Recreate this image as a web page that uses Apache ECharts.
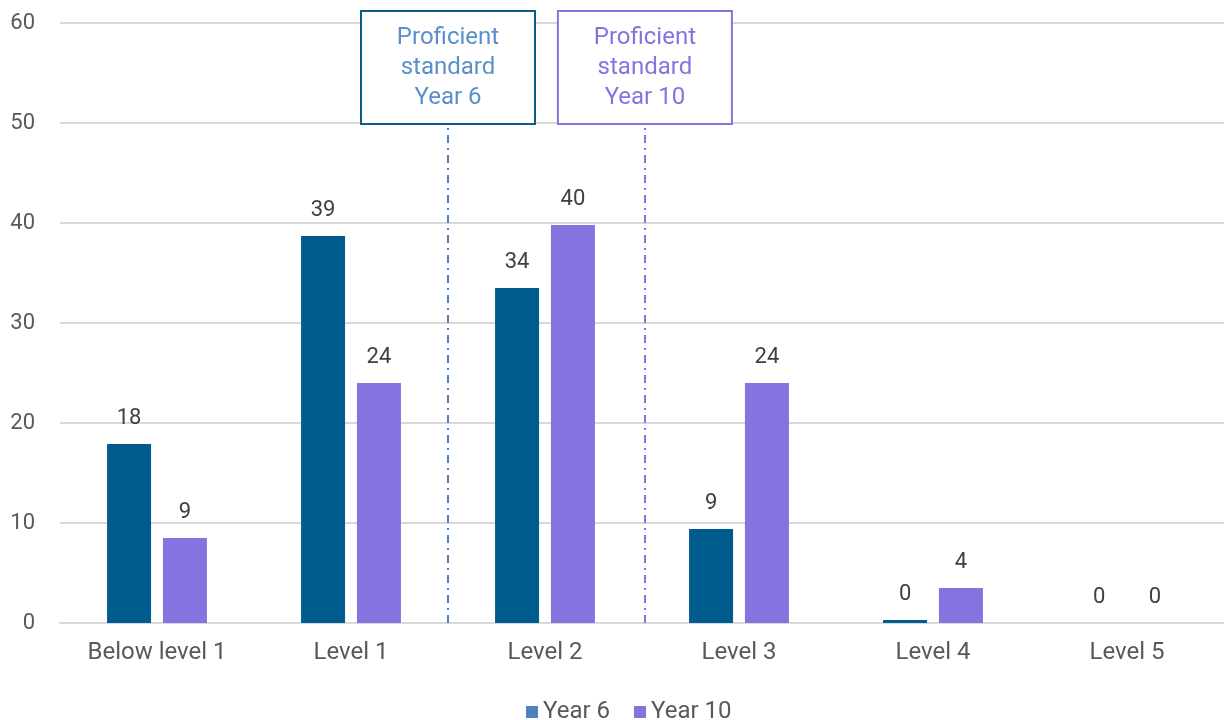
<!DOCTYPE html>
<html>
<head>
<meta charset="utf-8">
<script src="https://cdn.jsdelivr.net/npm/echarts@6/dist/echarts.min.js"></script>
<style>html,body{margin:0;padding:0;background:#fff;}#c{width:1224px;height:720px;}</style>
</head>
<body>
<div id="c"></div>
<script>
var categories = ['Below level 1', 'Level 1', 'Level 2', 'Level 3', 'Level 4', 'Level 5'];
var seriesNames = ['Year 6', 'Year 10'];
var year6 = [17.9, 38.7, 33.5, 9.4, 0.3, 0];
var year10 = [8.5, 24.0, 39.8, 24.0, 3.5, 0];
var yTicks = [0, 10, 20, 30, 40, 50, 60];
var standardNames = ['Proficient\nstandard\nYear 6', 'Proficient\nstandard\nYear 10'];
var standardPositions = [2, 3.015];   // positions along the category band (value-axis units)
var standardLineTop = 50;

var FONT = 'Roboto';
var c6 = '#005B8F', c10 = '#8673E0';

var chart = echarts.init(document.getElementById('c'), null, {renderer: 'canvas'});

function fmt(p) { return String(Math.round(p.value)); }

function standardLine(i, lineColor, borderColor, textColor) {
  return [
    {coord: [standardPositions[i], 0]},
    {
      coord: [standardPositions[i], standardLineTop],
      label: {
        show: true, position: 'end', distance: 0,
        formatter: standardNames[i],
        color: textColor, fontFamily: FONT, fontSize: 24, lineHeight: 30,
        align: 'center',
        width: 150, padding: [11, 11, 10, 11],
        borderColor: borderColor, borderWidth: 2, backgroundColor: '#fff'
      },
      lineStyle: {color: lineColor}
    }
  ];
}

var option = {
  animation: false,
  backgroundColor: '#fff',
  grid: {left: 60, top: 23, height: 600, width: 1168, containLabel: false},
  legend: {
    top: 695, left: 521,
    icon: 'rect', itemWidth: 12, itemHeight: 12, itemGap: 24,
    textStyle: {color: '#595959', fontFamily: FONT, fontSize: 24},
    data: [
      {name: seriesNames[0], itemStyle: {color: '#4F81BD'}},
      {name: seriesNames[1], itemStyle: {color: c10}}
    ]
  },
  xAxis: [
    {
      type: 'category', data: categories,
      axisLine: {show: true, lineStyle: {color: '#d9d9d9', width: 2}},
      axisTick: {show: false},
      axisLabel: {color: '#595959', fontFamily: FONT, fontSize: 24, margin: 18}
    },
    {type: 'value', min: 0, max: 6, show: false}
  ],
  yAxis: {
    type: 'value', min: yTicks[0], max: yTicks[yTicks.length - 1], interval: 10,
    axisLine: {show: false}, axisTick: {show: false},
    axisLabel: {color: '#595959', fontFamily: FONT, fontSize: 22, margin: 25},
    splitLine: {lineStyle: {color: '#d9d9d9', width: 2}}
  },
  series: [
    {
      name: seriesNames[0], type: 'bar', data: year6, barWidth: 44, barGap: '27%',
      itemStyle: {color: c6},
      label: {show: true, position: 'top', distance: 15, color: '#404040', fontFamily: FONT, fontSize: 22, formatter: fmt}
    },
    {
      name: seriesNames[1], type: 'bar', data: year10, barWidth: 44, barGap: '27%',
      itemStyle: {color: c10},
      label: {show: true, position: 'top', distance: 15, color: '#404040', fontFamily: FONT, fontSize: 22, formatter: fmt}
    },
    {
      name: 'standards', type: 'scatter', xAxisIndex: 1, yAxisIndex: 0, data: [],
      silent: true,
      markLine: {
        silent: true, symbol: 'none', animation: false,
        lineStyle: {type: [8, 5, 2, 5], width: 2},
        data: [
          standardLine(0, '#4A7FC1', '#0B5C8A', '#5B8FCB'),
          standardLine(1, '#8673E0', '#8673E0', '#8673E0')
        ]
      }
    }
  ]
};
chart.setOption(option);
</script>
</body>
</html>
